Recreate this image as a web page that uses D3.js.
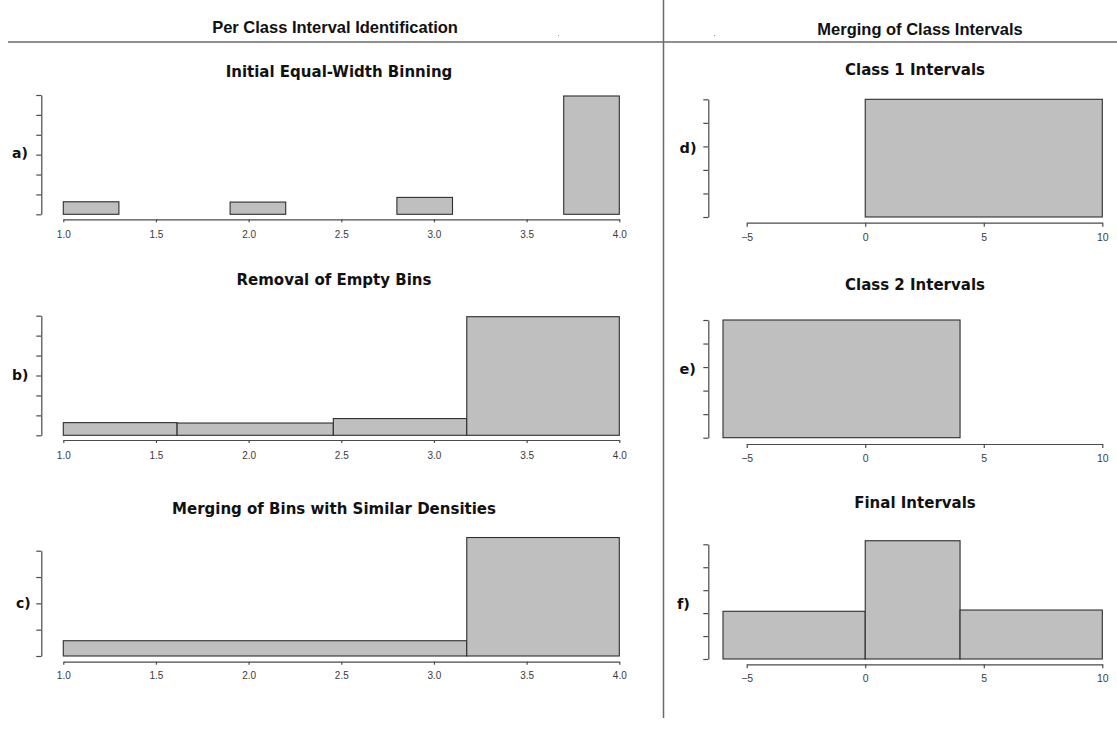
<!DOCTYPE html>
<html>
<head>
<meta charset="utf-8">
<script src="https://cdn.jsdelivr.net/npm/d3@7/dist/d3.min.js"></script>
<style>
  html, body { margin: 0; padding: 0; background: #fff; }
  svg { display: block; }
  .axis path, .axis line { stroke: #4a4a4a; stroke-width: 1.2; }
  .axis text { font-family: "Liberation Sans", Arial, sans-serif; fill: #3a3a3a; }
</style>
</head>
<body>
<svg id="chart" width="1117" height="733"></svg>
<script>
// ---- section and panel text ----
const sectionTitles = ["Per Class Interval Identification", "Merging of Class Intervals"];
const panelTitles = [
  "Initial Equal-Width Binning",
  "Removal of Empty Bins",
  "Merging of Bins with Similar Densities",
  "Class 1 Intervals",
  "Class 2 Intervals",
  "Final Intervals"
];
const panelTags = ["a)", "b)", "c)", "d)", "e)", "f)"];

// ---- x tick labels ----
const leftXTicks = [1.0, 1.5, 2.0, 2.5, 3.0, 3.5, 4.0];
const rightXTicks = [-5, 0, 5, 10];

// ---- y ticks (unlabelled) ----
const yTicksAB = [0, 0.2, 0.4, 0.6, 0.8, 1.0, 1.2];
const yTicksC = [0, 0.25, 0.5, 0.75, 1.0];
const yTicksDEF = [0, 0.02, 0.04, 0.06, 0.08, 0.10];

// ---- histogram bins: edges and densities ----
const edgesA = [1.0, 1.3, 1.6, 1.9, 2.2, 2.5, 2.8, 3.1, 3.4, 3.7, 4.0];
const densA = [0.126, 0, 0, 0.123, 0, 0, 0.17, 0, 0, 1.19];

const edgesB = [1.0, 1.614, 2.457, 3.177, 4.0];
const densB = [0.127, 0.123, 0.168, 1.19];

const edgesC = [1.0, 3.177, 4.0];
const densC = [0.145, 1.125];

const edgesD = [0, 10];
const densD = [0.1];

const edgesE = [-6, 4];
const densE = [0.1];

const edgesF = [-6, 0, 4, 10];
const densF = [0.0416, 0.1031, 0.0427];

// ---- layout ----
const svg = d3.select("#chart");

const LEFT = { xRange: [63.3, 619.3], yAxisX: 41.3, titleX: 334, tagX: 12, tagSize: 14, tickFont: 10 };
const RIGHT = { xRange: [746.7, 1102.3], yAxisX: 708.3, titleX: 915, tagX: 679.5, tagSize: 14.5, tickFont: 10.5 };

const panels = [
  { side: LEFT, xTicks: leftXTicks, xDomain: [1, 4], fmt: d3.format(".1f"),
    edges: edgesA, dens: densA, yTicks: yTicksAB, yRange: [214.3, 95], xAxisY: 219.3, labelY: 238,
    titleY: 77, titleX: 339, tagY: 157.5, title: panelTitles[0], tag: panelTags[0] },
  { side: LEFT, xTicks: leftXTicks, xDomain: [1, 4], fmt: d3.format(".1f"),
    edges: edgesB, dens: densB, yTicks: yTicksAB, yRange: [435.3, 315.7], xAxisY: 440, labelY: 458.5,
    titleY: 284.5, tagY: 379.5, title: panelTitles[1], tag: panelTags[1] },
  { side: LEFT, xTicks: leftXTicks, xDomain: [1, 4], fmt: d3.format(".1f"),
    edges: edgesC, dens: densC, yTicks: yTicksC, yRange: [656, 550.7], xAxisY: 661.7, labelY: 679,
    titleY: 513.5, tagY: 608, tagX: 16, title: panelTitles[2], tag: panelTags[2] },
  { side: RIGHT, xTicks: rightXTicks, xDomain: [-5, 10], fmt: d3.format("d"),
    edges: edgesD, dens: densD, yTicks: yTicksDEF, yRange: [217, 99.3], xAxisY: 222.7, labelY: 241,
    titleY: 74.5, tagY: 152.5, title: panelTitles[3], tag: panelTags[3] },
  { side: RIGHT, xTicks: rightXTicks, xDomain: [-5, 10], fmt: d3.format("d"),
    edges: edgesE, dens: densE, yTicks: yTicksDEF, yRange: [437.7, 320], xAxisY: 444, labelY: 461.5,
    titleY: 289.5, tagY: 374, title: panelTitles[4], tag: panelTags[4] },
  { side: RIGHT, xTicks: rightXTicks, xDomain: [-5, 10], fmt: d3.format("d"),
    edges: edgesF, dens: densF, yTicks: yTicksDEF, yRange: [659, 544.3], xAxisY: 664.3, labelY: 682.5,
    titleY: 507.5, tagY: 608.5, tagX: 677, title: panelTitles[5], tag: panelTags[5] }
];

// ---- section headers and dividers ----
svg.append("line")
  .attr("x1", 8).attr("x2", 1117).attr("y1", 42).attr("y2", 42)
  .attr("stroke", "#6a6a6a").attr("stroke-width", 1.5);
svg.append("line")
  .attr("x1", 663.5).attr("x2", 663.5).attr("y1", 0).attr("y2", 718)
  .attr("stroke", "#6a6a6a").attr("stroke-width", 1.5);

svg.selectAll("text.section")
  .data(sectionTitles)
  .join("text")
  .attr("class", "section")
  .attr("x", (d, i) => i === 0 ? 335 : 920)
  .attr("y", (d, i) => i === 0 ? 33 : 35)
  .attr("text-anchor", "middle")
  .attr("font-family", "'Liberation Sans', Arial, sans-serif")
  .attr("font-weight", "bold")
  .attr("font-size", 16.5)
  .attr("fill", "#111")
  .text(d => d);

// tiny specks near the header line
svg.selectAll("rect.speck")
  .data([[558, 35], [714, 35]])
  .join("rect")
  .attr("class", "speck")
  .attr("x", d => d[0]).attr("y", d => d[1])
  .attr("width", 1).attr("height", 1)
  .attr("fill", "#999");

// ---- panels ----
panels.forEach(p => {
  const g = svg.append("g");
  const x = d3.scaleLinear().domain(p.xDomain).range(p.side.xRange);
  const yMax = p.yTicks[p.yTicks.length - 1];
  const y = d3.scaleLinear().domain([0, yMax]).range(p.yRange);

  const bins = p.dens.map((v, i) => ({ x0: p.edges[i], x1: p.edges[i + 1], v }));

  g.selectAll("rect.bar")
    .data(bins)
    .join("rect")
    .attr("class", "bar")
    .attr("x", d => x(d.x0))
    .attr("y", d => y(d.v))
    .attr("width", d => x(d.x1) - x(d.x0))
    .attr("height", d => Math.max(0, y(0) - y(d.v)))
    .attr("fill", "#bfbfbf")
    .attr("stroke", "#2e2e2e")
    .attr("stroke-width", 1.1);

  // y axis: ticks only, no labels
  g.append("g")
    .attr("class", "axis")
    .attr("transform", `translate(${p.side.yAxisX},0)`)
    .call(d3.axisLeft(y).tickValues(p.yTicks).tickFormat("").tickSize(5).tickSizeOuter(0));

  // x axis
  const xa = g.append("g")
    .attr("class", "axis")
    .attr("transform", `translate(0,${p.xAxisY})`)
    .call(d3.axisBottom(x).tickValues(p.xTicks).tickFormat(p.fmt)
      .tickSize(p.side === LEFT ? 3 : 4).tickSizeOuter(0));
  xa.attr("font-size", p.side.tickFont);
  xa.selectAll(".tick text")
    .attr("y", p.labelY - p.xAxisY)
    .attr("dy", "0");

  // title
  g.append("text")
    .attr("x", p.titleX !== undefined ? p.titleX : p.side.titleX)
    .attr("y", p.titleY)
    .attr("text-anchor", "middle")
    .attr("font-family", "'DejaVu Sans', sans-serif")
    .attr("font-weight", "bold")
    .attr("font-size", 15)
    .attr("fill", "#111")
    .text(p.title);

  // panel tag
  g.append("text")
    .attr("x", p.tagX !== undefined ? p.tagX : p.side.tagX)
    .attr("y", p.tagY)
    .attr("font-family", "'DejaVu Sans', sans-serif")
    .attr("font-weight", "bold")
    .attr("font-size", p.side.tagSize)
    .attr("fill", "#111")
    .text(p.tag);
});
</script>
</body>
</html>
